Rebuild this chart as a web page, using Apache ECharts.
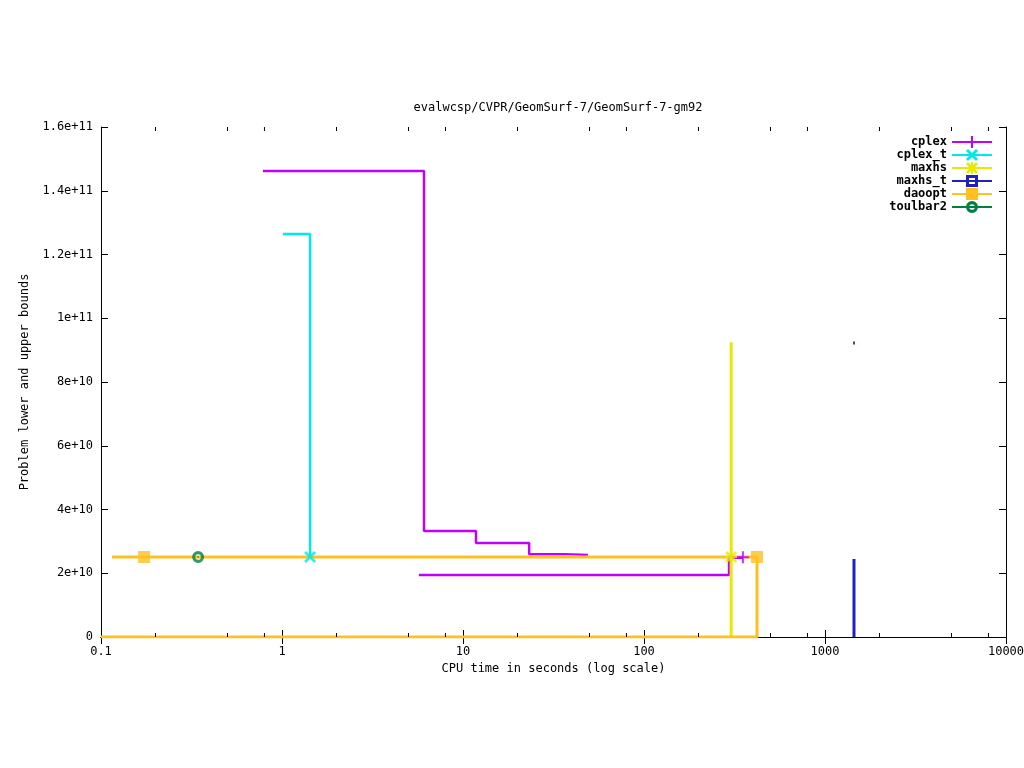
<!DOCTYPE html>
<html><head><meta charset="utf-8">
<script src="https://cdn.jsdelivr.net/npm/echarts@6/dist/echarts.min.js"></script>
<style>html,body{margin:0;padding:0;background:#fff}#c{width:1024px;height:768px}</style>
</head><body><div id="c"></div>
<script>
const titleText = 'evalwcsp/CVPR/GeomSurf-7/GeomSurf-7-gm92';
const xName = 'CPU time in seconds (log scale)';
const yName = 'Problem lower and upper bounds';
const xMin = 0.1, xMax = 10000;
const yMin = 0, yMax = 1.6e11, yStep = 2e10;
const minorTicks = [0.2,0.5,0.8,2,5,8,20,50,80,200,500,800,2000,5000,8000];
const names = ['cplex','cplex_t','maxhs','maxhs_t','daoopt','toulbar2'];
const colors = ['#c000ff','#00e8e8','#e8e800','#2020c0','#ffc020','#008040'];
// bound traces (time, value)
const cplexUpper = [[0.785,1.462e11],[6.09,3.325e10],[11.8,2.95e10],[23.2,2.6e10],[36.6,2.57e10],[49,2.57e10]];
const cplexLower = [[5.71,1.945e10],[295,2.49e10],[352,2.49e10]];
const cplexMark = [[352,2.5e10]];
const cplexTUpper = [[1.013,1.264e11],[1.43,2.51e10]];
const cplexTMark = [[1.43,2.51e10]];
const maxhsUpper = [[303,9.25e10],[303,2.51e10]];
const maxhsLower = [[303,0],[303,2.51e10]];
const maxhsMark = [[303,2.51e10]];
const maxhsTUpper = [[1430,9.22e10],[1462,9.22e10]];
const maxhsTLower = [[1446,0],[1446,2.45e10]];
const daooptUpper = [[0.115,2.51e10],[421,2.51e10]];
const daooptLower = [[0.1,0],[421,0],[421,2.51e10]];
const daooptMark = [[0.173,2.51e10],[421,2.51e10]];
const toulbarMark = [[0.344,2.51e10]];

const SYM = {
  plus: 'path://M5,0H7V5H12V7H7V12H5V7H0V5H5Z',
  cross: 'path://M0,2L2,0L6,4L10,0L12,2L8,6L12,10L10,12L6,8L2,12L0,10L4,6Z',
  star: 'path://M5,0H7V5H12V7H7V12H5V7H0V5H5Z M0,2L2,0L6,4L10,0L12,2L8,6L12,10L10,12L6,8L2,12L0,10L4,6Z',
  orect: 'path://M0,0H12V12H0Z M3,3V9H9V3Z M3,5H9V7H3Z',
  rect: 'rect',
  ring: 'path://M6,0A6,6 0 1,1 5.99,0Z M6,3.2A2.8,2.8 0 1,0 6.01,3.2Z M5.3,5.3H6.7V6.7H5.3Z'
};
const syms = [SYM.plus, SYM.cross, SYM.star, SYM.orect, SYM.rect, SYM.ring];
const widths = [2.5,2.5,3,3,3,3];

function lineSeries(i, data) {
  return {type:'line', name:names[i], data:data, step:'end', showSymbol:false, symbol:syms[i],
    symbolSize:12, lineStyle:{color:colors[i], width:widths[i]}, itemStyle:{color:colors[i]},
    animation:false, silent:true, z:2};
}
function markSeries(i, data) {
  return {type:'scatter', name:names[i], data:data, symbol:syms[i], symbolSize:12,
    itemStyle:{color:colors[i]}, animation:false, silent:true, z:4};
}
const FONT = 'DejaVu Sans Mono';
const series = [
  lineSeries(0, cplexUpper),
  lineSeries(1, cplexTUpper),
  lineSeries(2, maxhsUpper),
  lineSeries(3, maxhsTUpper),
  lineSeries(4, daooptUpper),
  {type:'line', name:names[5], data:[], showSymbol:false, symbol:syms[5], lineStyle:{color:colors[5], width:3}, itemStyle:{color:colors[5]}, animation:false},
  lineSeries(0, cplexLower),
  lineSeries(2, maxhsLower),
  lineSeries(3, maxhsTLower),
  lineSeries(4, daooptLower),
  markSeries(0, cplexMark),
  markSeries(1, cplexTMark),
  markSeries(2, maxhsMark),
  markSeries(4, daooptMark),
  markSeries(5, toulbarMark),
  {type:'custom', data: minorTicks.map(v=>[v, yMin]), silent:true, animation:false, clip:false, z:5,
   renderItem: function(params, api){
     const b = api.coord([api.value(0), yMin]);
     const t = api.coord([api.value(0), yMax]);
     return {type:'group', children:[
       {type:'line', shape:{x1:b[0],y1:b[1],x2:b[0],y2:b[1]-4}, style:{stroke:'#000', lineWidth:1}},
       {type:'line', shape:{x1:t[0],y1:t[1],x2:t[0],y2:t[1]+4}, style:{stroke:'#000', lineWidth:1}}
     ]};
   }}
];
const chart = echarts.init(document.getElementById('c'), null, {renderer:'canvas'});
const axisCommon = {axisLine:{show:true, lineStyle:{color:'#000', width:1}}, axisTick:{show:true, inside:true, length:7, lineStyle:{color:'#000'}}, splitLine:{show:false}};
chart.setOption({
  backgroundColor:'#fff',
  animation:false,
  title:{text:titleText, left:553, top:97, textAlign:'center', textStyle:{fontFamily:FONT, fontSize:12, fontWeight:'normal', color:'#000'}},
  grid:{left:101, right:18, top:127, bottom:131, containLabel:false, outerBoundsMode:'none'},
  legend:{data:names, orient:'vertical', right:31, top:136, align:'right', itemWidth:40, itemHeight:15, itemGap:1, padding:0,
    textStyle:{fontFamily:FONT, fontSize:12, fontWeight:'bold', color:'#000', width:70, align:'right'}},
  xAxis:[
    Object.assign({type:'log', logBase:10, min:xMin, max:xMax, position:'bottom', name:xName, nameLocation:'middle', nameGap:26,
      nameTextStyle:{fontFamily:FONT, fontSize:12, color:'#000'},
      axisLabel:{fontFamily:FONT, fontSize:12, color:'#000', margin:9, formatter:v=>String(Number(v.toPrecision(6)))}}, axisCommon),
    Object.assign({type:'log', logBase:10, min:xMin, max:xMax, position:'top', axisLabel:{show:false}}, axisCommon)
  ],
  yAxis:[
    Object.assign({type:'value', min:yMin, max:yMax, interval:yStep, position:'left', name:yName, nameLocation:'middle', nameGap:70,
      nameTextStyle:{fontFamily:FONT, fontSize:12, color:'#000'},
      axisLabel:{fontFamily:FONT, fontSize:12, color:'#000', margin:8, formatter:v=>v===0?'0':v.toExponential()}}, axisCommon),
    Object.assign({type:'value', min:yMin, max:yMax, interval:yStep, position:'right', axisLabel:{show:false}}, axisCommon)
  ],
  series: series
});
</script></body></html>
